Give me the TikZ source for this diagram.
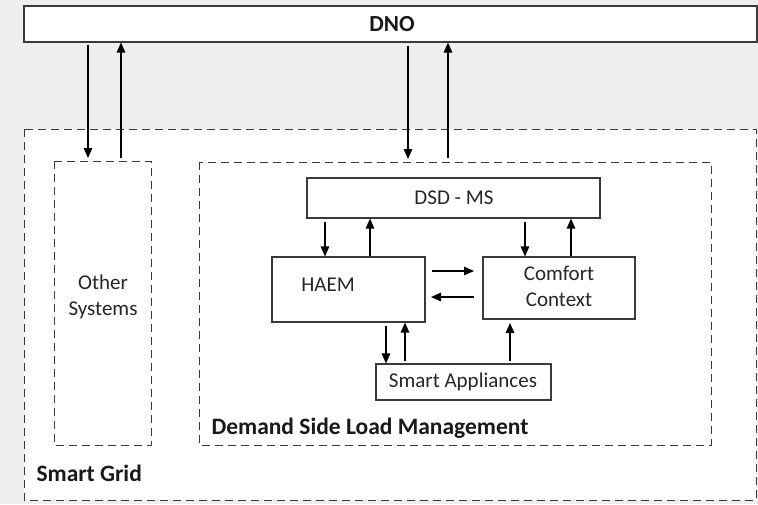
\documentclass[tikz,border=0pt]{standalone}
\usepackage{fontspec}
\setmainfont{Carlito}
\usetikzlibrary{arrows.meta}
\definecolor{bgrey}{HTML}{EEEEEE}
\definecolor{lineg}{HTML}{3A3A3A}
\tikzset{
  solidbox/.style={draw=lineg, line width=1.1pt, fill=white, inner sep=0pt},
  dashbox/.style={draw=lineg, line width=1pt, dash pattern=on 8pt off 5pt, inner sep=0pt},
  flow/.style={draw=black, line width=1.3pt, -{Triangle[length=10pt,width=8.5pt]}},
  lbl/.style={font=\fontsize{21}{26}\selectfont, text=black!85},
  blbl/.style={font=\fontsize{23.5}{26}\selectfont\bfseries, text=black!90, anchor=west},
}
\begin{document}
\begin{tikzpicture}[x=1pt,y=-1pt]
  % canvas
  \fill[bgrey] (0,0) rectangle (758,504);
  \useasboundingbox (0,0) rectangle (758,504);

  % outer region and its members
  \fill[white] (24,129) rectangle (756,500);
  \draw[dashbox] (24,129) rectangle (756,500);
  \node[solidbox, minimum width=733pt, minimum height=36pt] (dno) at (390.5,24) {};
  \node[font=\fontsize{23}{26}\selectfont\bfseries, text=black!90] at (392,24) {DNO};

  \draw[dashbox] (54,161) rectangle (151,445);
  \coordinate (oth) at (102.5,161);
  \node[lbl, align=center] (other) at (103,297) {Other\\Systems};

  \draw[dashbox] (199,162) rectangle (711,445);
  \node[blbl] (dslm) at (208,428) {Demand Side Load Management};
  \node[blbl] (sg) at (33,473) {Smart Grid};

  % inner blocks
  \node[solidbox, minimum width=293pt, minimum height=40pt] (dsd) at (453.5,198) {};
  \node[lbl] at (454,198) {DSD - MS};
  \node[solidbox, minimum width=153pt, minimum height=65pt] (haem) at (348.5,289.5) {};
  \node[lbl] at (328,285) {HAEM};
  \node[solidbox, minimum width=152pt, minimum height=62pt] (cc) at (559,288) {};
  \node[lbl, align=center] at (559,286) {Comfort\\Context};
  \node[solidbox, minimum width=175pt, minimum height=36pt] (sa) at (463.5,382) {};
  \node[lbl] at (463,382) {Smart Appliances};

  % DNO links
  \draw[flow] (dno.south -| 88,0) ++(0,2) -- (88,158);
  \draw[flow] (121,158) -- (dno.south -| 121,0);
  \draw[flow] (dno.south -| 408,0) ++(0,3) -- (408,159);
  \draw[flow] (448,158) -- (dno.south -| 448,0);

  % DSD-MS links
  \draw[flow] (dsd.south -| 325,0) ++(0,3) -- (haem.north -| 325,0);
  \draw[flow] (haem.north -| 370,0) -- (dsd.south -| 370,0);
  \draw[flow] (dsd.south -| 525,0) ++(0,3) -- (cc.north -| 525,0);
  \draw[flow] (cc.north -| 571,0) -- (dsd.south -| 571,0);

  % HAEM <-> comfort context
  \draw[flow] (432,271) -- (474,271);
  \draw[flow] (474,297) -- (431,297);

  % appliances links
  \draw[flow] (haem.south -| 386,0) ++(0,3) -- (sa.north -| 386,0);
  \draw[flow] (sa.north -| 405,0) ++(0,-2) -- (haem.south -| 405,0);
  \draw[flow] (sa.north -| 510,0) ++(0,-2) -- (510,323);
\end{tikzpicture}
\end{document}
